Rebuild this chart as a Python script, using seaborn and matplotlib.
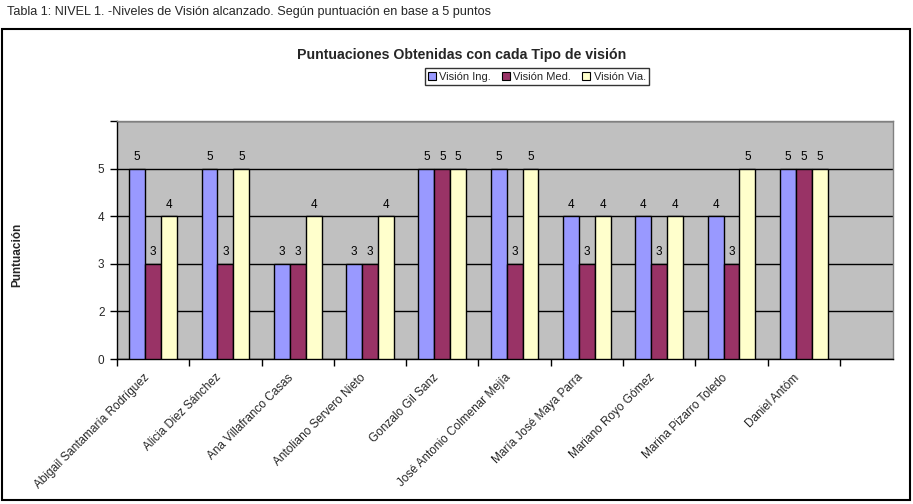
import matplotlib
matplotlib.use("Agg")
import matplotlib.pyplot as plt
from matplotlib.patches import Rectangle, Patch
import seaborn as sns
import pandas as pd
import numpy as np

# ---- data ----
nombres = [
    "Abigail Santamaría Rodríguez",
    "Alicia Diez Sánchez",
    "Ana Villafranco Casas",
    "Antoliano Servero Nieto",
    "Gonzalo Gil Sanz",
    "José Antonio Colmenar Mejía",
    "María José Maya Parra",
    "Mariano Royo Gómez",
    "Marina Pizarro Toledo",
    "Daniel Antóm",
]
vision_ing = [5, 5, 3, 3, 5, 5, 4, 4, 4, 5]
vision_med = [3, 3, 3, 3, 5, 3, 3, 3, 3, 5]
vision_via = [4, 5, 4, 4, 5, 5, 4, 4, 5, 5]
series = ["Visión Ing.", "Visión Med.", "Visión Via."]
colores = ["#9999FF", "#993366", "#FFFFCC"]
ytick_vals = [1, 2, 3, 4, 5, 6]
ytick_labels = ["0", "2", "3", "4", "5", ""]

titulo = "Puntuaciones Obtenidas con cada Tipo de visión"
leyenda_tabla = "Tabla 1: NIVEL 1. -Niveles de Visión alcanzado. Según puntuación en base a 5 puntos"
eje_y = "Puntuación"

sns.set_theme(style="white")
plt.rcParams['font.family'] = ['Liberation Sans', 'DejaVu Sans']

df = pd.DataFrame({
    "Nombre": nombres * 3,
    "Serie": np.repeat(series, len(nombres)),
    "Puntuación": vision_ing + vision_med + vision_via,
})

W, H = 913, 504
fig = plt.figure(figsize=(W / 100, H / 100), dpi=100)
fig.patch.set_facecolor("white")

ax = fig.add_axes([117 / W, 1 - 359 / H, (893 - 117) / W, (359 - 121) / H])
ax.set_facecolor("#C0C0C0")

sns.barplot(data=df, x="Nombre", y="Puntuación", hue="Serie", order=nombres,
            hue_order=series, palette=colores, width=0.66, edgecolor="black",
            linewidth=1, saturation=1, ax=ax, legend=False, errorbar=None)

for cont in ax.containers:
    ax.bar_label(cont, padding=4, fontsize=8.5, color="black")

ax.set_ylim(1, 6)
ax.set_xlim(-0.5, 9.5 + 53 / 72.2)
ax.set_yticks(ytick_vals)
ax.set_yticklabels(ytick_labels, fontsize=8.5)
ax.yaxis.grid(True, color="black", linewidth=1)
ax.set_axisbelow(True)

ax.set_xticks(np.arange(-0.5, 10.0, 1.0))
ax.set_xticklabels([])
# label anchors slightly left of each category centre (Excel-like placement)
ax.set_xticks(np.arange(len(nombres)) - 0.14, minor=True)
ax.set_xticklabels(nombres, minor=True, rotation=45, ha="right",
                   rotation_mode="anchor", fontsize=8.5)
ax.tick_params(axis="x", which="minor", length=0, pad=9)
ax.tick_params(axis="x", which="major", direction="out", length=5, width=1,
               color="black", bottom=True)
ax.tick_params(axis="y", direction="out", length=5, width=1, color="black",
               left=True, pad=4)
ax.set_xlabel("")
ax.set_ylabel("")

for s in ["left", "bottom"]:
    ax.spines[s].set_color("black")
    ax.spines[s].set_linewidth(1)
for s in ["top", "right"]:
    ax.spines[s].set_color("#808080")
    ax.spines[s].set_linewidth(1)

# chart border
fig.patches.append(Rectangle((2 / W, 1 - 500 / H), (910 - 2) / W, (500 - 29) / H,
                             transform=fig.transFigure, fill=False,
                             edgecolor="black", linewidth=1.5))

fig.text(7 / W, 1 - 12 / H, leyenda_tabla, fontsize=9.1, va="center", ha="left")
fig.text(462 / W, 1 - 55 / H, titulo, fontsize=10.2, weight="bold",
         ha="center", va="center")
fig.text(17 / W, 1 - 255 / H, eje_y, fontsize=8.5, weight="bold",
         rotation=90, ha="center", va="center")

handles = [Patch(facecolor=c, edgecolor="black", linewidth=0.8) for c in colores]
leg = fig.legend(handles, series, loc="center", bbox_to_anchor=(537 / W, 1 - 76.5 / H),
                 ncol=3, frameon=True, fancybox=False, edgecolor="black",
                 fontsize=8, handlelength=0.7, handleheight=0.7,
                 columnspacing=1.0, handletextpad=0.3, borderpad=0.3)
leg.get_frame().set_linewidth(1)

fig.savefig("out.png", dpi=100)
